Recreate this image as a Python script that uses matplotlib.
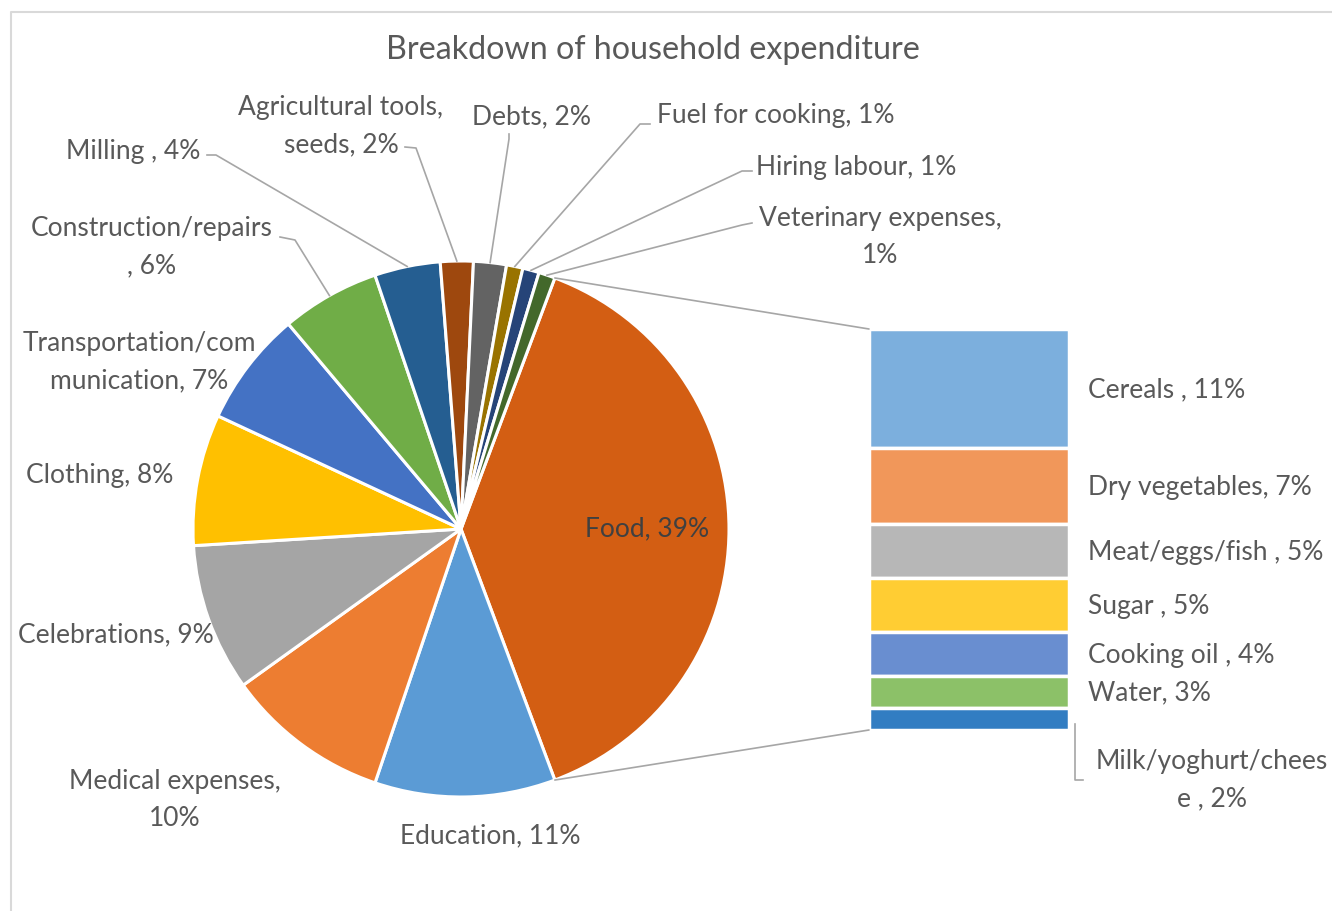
import matplotlib.pyplot as plt
import numpy as np
from matplotlib.lines import Line2D
from matplotlib.patches import ConnectionPatch

plt.rcParams['font.family'] = ['Lato', 'DejaVu Sans']

W, H = 1332, 912

# main pie: spending categories (percent of total), names as printed before the value
pie_names = ['Food, ', 'Education, ', 'Medical expenses,\n', 'Celebrations, ', 'Clothing, ',
             'Transportation/com\nmunication, ', 'Construction/repairs\n, ', 'Milling , ',
             'Agricultural tools,\nseeds, ', 'Debts, ', 'Fuel for cooking, ',
             'Hiring labour, ', 'Veterinary expenses,\n']
pie_values = [39, 11, 10, 9, 8, 7, 6, 4, 2, 2, 1, 1, 1]
pie_colors = ['#D35E13', '#5B9BD5', '#ED7D31', '#A5A5A5', '#FFC000', '#4472C4',
              '#70AD47', '#255E91', '#9E480E', '#636363', '#997300', '#264478',
              '#43682B']

# breakdown of the food slice
food_names = ['Cereals , ', 'Dry vegetables, ', 'Meat/eggs/fish , ', 'Sugar , ',
              'Cooking oil , ', 'Water, ', 'Milk/yoghurt/chees\ne , ']
food_values = [11, 7, 5, 5, 4, 3, 2]
food_colors = ['#7CAFDD', '#F1975A', '#B7B7B7', '#FFCD33', '#698ED0', '#8CC168',
               '#327DC2']


def label(name, v):
    return f'{name}{v}%'


def fx(x):
    return x / W


def fy(y):
    return 1 - y / H


txt = '#595959'
line_col = '#A6A6A6'
fs = 19
lsp = 1.6

fig = plt.figure(figsize=(W / 100, H / 100), dpi=100)

# chart border
fig.add_artist(Line2D([fx(11), fx(11), 1], [0, fy(13), fy(13)],
                      transform=fig.transFigure, color='#D9D9D9', lw=1.5))

fig.text(fx(653), fy(50), 'Breakdown of household expenditure', ha='center',
         va='center', fontsize=23.2, color=txt)

cx, cy, r = 461, 530, 268
ax = fig.add_axes([fx(cx - r), fy(cy + r), 2 * r / W, 2 * r / H])
food_frac = pie_values[0] / sum(pie_values)
wedges, _ = ax.pie(pie_values, colors=pie_colors, startangle=food_frac * 180,
                   counterclock=False,
                   wedgeprops=dict(edgecolor='white', linewidth=2.2))
ax.set_xlim(-1, 1)
ax.set_ylim(-1, 1)
ax.set_aspect('equal')
ax.axis('off')

# label centres in pixels, plus optional leader line start and elbow
pos = [(647, 529), (490, 836), (175, 800), (116, 635), (100, 475), (139, 362),
       (152, 247), (133, 151), (341, 126), (531, 117), (776, 115), (856, 167),
       (880, 237)]
leaders = {6: [(280, 238), (295, 241)],
           7: [(207, 156), (216, 156)],
           8: [(405, 148), (416, 149)],
           9: [(509, 135), (509, 140)],
           10: [(650, 125), (640, 125)],
           11: [(752, 172), (742, 172)],
           12: [(752, 224), (742, 226)]}

for i, (name, v) in enumerate(zip(pie_names, pie_values)):
    x, y = pos[i]
    fig.text(fx(x), fy(y), label(name, v), ha='center', va='center',
             fontsize=fs, color='#404040' if i == 0 else txt, linespacing=lsp)
    if i in leaders:
        w = wedges[i]
        mid = np.deg2rad((w.theta1 + w.theta2) / 2)
        px, py = ax.transData.transform((np.cos(mid), np.sin(mid)))
        pts = leaders[i]
        xs = [fx(p[0]) for p in pts] + [px / W]
        ys = [fy(p[1]) for p in pts] + [py / H]
        fig.add_artist(Line2D(xs, ys, transform=fig.transFigure,
                              color=line_col, lw=1.2))

# stacked bar of the food items, biggest at the top
bx = fig.add_axes([fx(869), fy(731), 200 / W, 401 / H])
total = sum(food_values)
tops = total - np.cumsum([0] + food_values[:-1])
bottoms = tops - np.array(food_values)
bx.bar(0, food_values, bottom=bottoms, width=1, color=food_colors,
       edgecolor='white', linewidth=2.5)
bx.set_xlim(-0.5, 0.5)
bx.set_ylim(0, total)
bx.axis('off')

for i, (name, v) in enumerate(zip(food_names[:-1], food_values[:-1])):
    mid = bottoms[i] + v / 2
    bx.text(1.095, mid, label(name, v), transform=bx.get_yaxis_transform(),
            ha='left', va='center', fontsize=fs, color=txt)

# last item sits below the bar with a bracket leader
fig.text(fx(1212), fy(780), label(food_names[-1], food_values[-1]),
         ha='center', va='center', fontsize=fs, color=txt, linespacing=lsp)
fig.add_artist(Line2D([fx(1075), fx(1075), fx(1083)], [fy(725), fy(781), fy(781)],
                      transform=fig.transFigure, color=line_col, lw=1.2))

# connectors from the food slice to the bar
food = wedges[0]
for ang, yb in [(food.theta2, 1), (food.theta1, 0)]:
    a = np.deg2rad(ang)
    con = ConnectionPatch(xyA=(np.cos(a), np.sin(a)), coordsA=ax.transData,
                          xyB=(0, yb), coordsB=bx.transAxes,
                          color=line_col, lw=1.2)
    fig.add_artist(con)

fig.savefig('out.png', dpi=100, facecolor='white')
